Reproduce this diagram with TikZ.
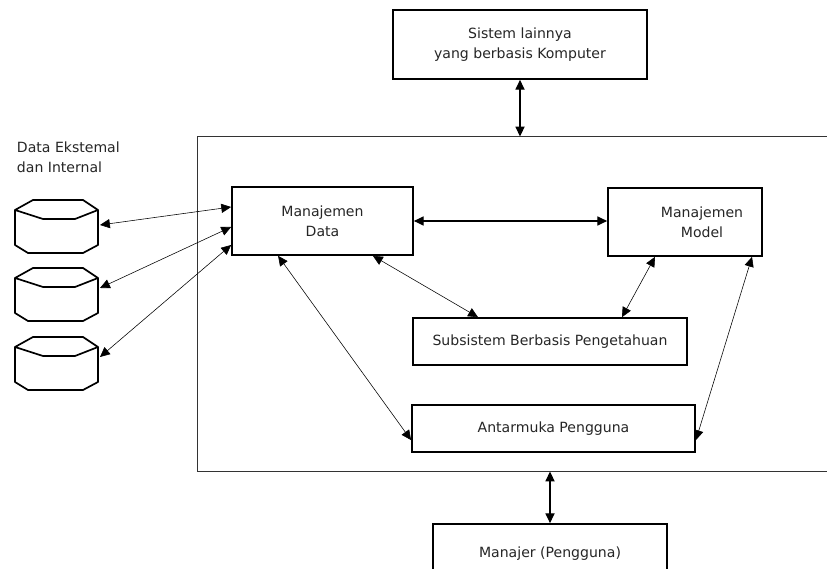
\documentclass[tikz,border=0pt]{standalone}
\usepackage{fontspec}
\setmainfont{DejaVu Sans}
\usepackage{tikz}
\usetikzlibrary{arrows.meta, positioning}

\begin{document}
\begin{tikzpicture}[box/.style={draw, line width=1.2pt, align=center, inner sep=0pt},
					conn/.style={<->, line width=0.4pt},
					x=0.025cm, y=-0.025cm, >={Triangle[length=7pt,width=6.5pt]},   %1 Einheit = 1 Pixel
					font=\fontsize{10}{14.2}\selectfont, text=black!85]
					\clip (0,0) rectangle (827,569);
					\fill[white] (0,0) rectangle (827,569);
					% Rahmen des Systems
					\node[draw, line width=0.7pt, draw=black!80, minimum width=15.9cm, minimum height=8.35cm] (dss) at (516,304) {};
					\node[box, minimum width=6.35cm, minimum height=1.725cm] (sys) at (520,44.5) {Sistem lainnya\\yang berbasis Komputer};
					\node[box, minimum width=4.525cm, minimum height=1.7cm] (data) at (322.5,221) {Manajemen\\Data};
					\node[box, minimum width=3.85cm, minimum height=1.7cm] (model) at (685,222) {};
					\node[align=center] (modeltxt) at (702,222) {Manajemen\\Model};
					\node[box, minimum width=6.85cm, minimum height=1.175cm] (kbs) at (550,341.5) {Subsistem Berbasis Pengetahuan};
					\node[box, minimum width=7.075cm, minimum height=1.175cm] (ui) at (553.5,428.5) {Antarmuka Pengguna};
					\node[box, minimum width=5.85cm, minimum height=1.5cm] (user) at (550,554) {\raisebox{0.1cm}{Manajer (Pengguna)}};
					\node[anchor=west, align=left] (ext) at (12,157) {Data Ekstemal\\dan Internal};
					% Datenbanken
					\foreach \y/\n in {200/1,268/2,337/3}{
						\draw[line width=1.2pt, line join=round] (15,\y+10) -- (33,\y) -- (83,\y) -- (98,\y+10) -- (75,\y+19) -- (43,\y+19) -- cycle;
						\draw[line width=1.2pt, line join=round] (15,\y+10) -- (15,\y+45) -- (28,\y+53) -- (83,\y+53) -- (98,\y+45) -- (98,\y+10);
					}
					\coordinate (db1) at (100,225);
					\coordinate (db2) at (100,288);
					\coordinate (db3) at (100,357);
					\draw[conn] (db1) -- ([yshift=0.35cm]data.west);
					\draw[conn] (db2) -- ([yshift=-0.15cm]data.west);
					\draw[conn] (db3) -- ([yshift=-0.6cm]data.west);
					\draw[<->, line width=0.9pt] (data.east) -- (data.east -| model.west);
					\draw[conn] ([xshift=1.26cm]data.south) -- ([xshift=-1.8cm]kbs.north);
					\draw[conn] ([xshift=-0.75cm]model.south) -- ([xshift=1.8cm]kbs.north);
					\draw[conn] ([xshift=-1.11cm]data.south) -- ([yshift=-0.29cm]ui.west);
					\draw[conn] ([xshift=1.675cm]model.south) -- ([yshift=-0.29cm]ui.east);
					\draw[<->, line width=0.9pt] (sys.south) -- (sys.south |- dss.north);
					\draw[<->, line width=0.9pt] (dss.south -| user.north) -- (user.north);
				\end{tikzpicture}
\end{document}
